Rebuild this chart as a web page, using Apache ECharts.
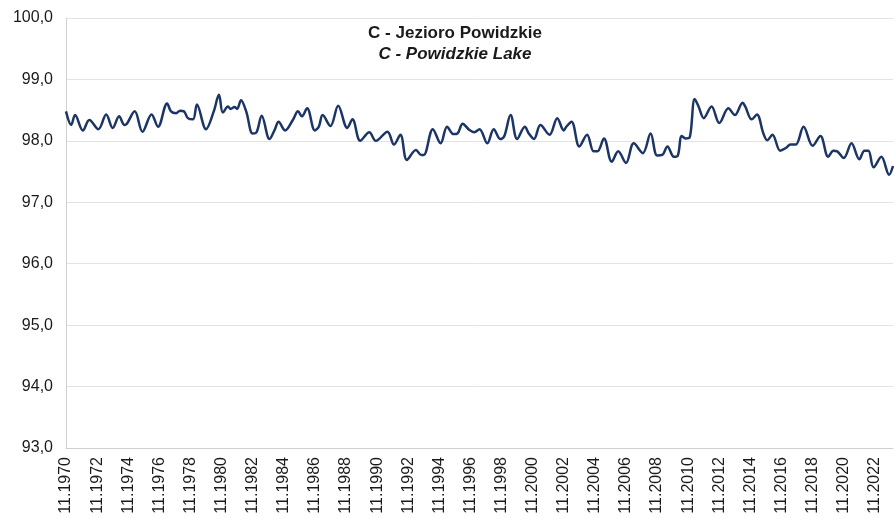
<!DOCTYPE html>
<html>
<head>
<meta charset="utf-8">
<script src="https://cdn.jsdelivr.net/npm/echarts@6/dist/echarts.min.js"></script>
<style>
html,body{margin:0;padding:0;background:#fff;}
#chart{width:894px;height:518px;}
</style>
</head>
<body>
<div id="chart"></div>
<script>
// month index counted from 11.1970
var months = [0,4,7,13,18,25,31,36,41,45,47,53,59,66,71,78,81,85,88,91,94,98,101,108,114,118,121,125,127,130,132,135,139,144,147,151,157,
161,164,169,175,179,182,186,192,195,198,204,210,217,221,227,234,239,248,253,258,263,270,274,276,283,289,294,299,302,306,
311,315,319,325,330,335,338,343,348,354,357,361,366,373,379,384,386,390,396,402,407,410,415,421,426,432,438,445,451,456,460,464,469,
472,475,478,481,485,488,492,498,504,511,516,522,524,529,533,538,541,545,551,555,559,563,569,576,582,588,592,595,600,606,612,616,619,623,629,635,638];
var levels = [98.48,98.26,98.42,98.17,98.34,98.19,98.43,98.21,98.40,98.26,98.28,98.48,98.15,98.43,98.23,98.61,98.48,98.45,98.49,98.48,98.37,98.35,98.59,98.19,98.48,98.75,98.46,98.56,98.52,98.55,98.52,98.66,98.48,98.12,98.14,98.41,98.03,
98.18,98.31,98.17,98.34,98.48,98.40,98.53,98.17,98.23,98.42,98.24,98.57,98.21,98.35,98.00,98.14,98.00,98.15,97.94,98.10,97.69,97.85,97.77,97.77,98.19,97.96,98.23,98.11,98.12,98.28,
98.18,98.14,98.19,97.96,98.19,98.03,98.07,98.42,98.03,98.23,98.12,98.03,98.26,98.10,98.37,98.17,98.23,98.31,97.91,98.10,97.83,97.83,98.04,97.66,97.83,97.64,97.96,97.80,98.12,97.76,97.77,97.91,97.74,
97.76,98.08,98.04,98.05,98.68,98.56,98.37,98.56,98.29,98.53,98.42,98.62,98.56,98.35,98.43,98.12,98.01,98.10,97.84,97.88,97.94,97.94,98.23,97.92,98.08,97.74,97.84,97.83,97.72,97.96,97.70,97.84,97.84,97.57,97.74,97.45,97.59];
var startYear = 1970;
var startMonth = 11;
var titleLine1 = 'C - Jezioro Powidzkie';
var titleLine2 = 'C - Powidzkie Lake';

var seriesData = months.map(function(m, i){ return [m, levels[i]]; });

var chart = echarts.init(document.getElementById('chart'), null, {renderer:'canvas'});
chart.setOption({
  animation:false,
  backgroundColor:'#fff',
  title:[
    {text:titleLine1, left:450, top:20, textAlign:'center',
     textStyle:{fontFamily:'Liberation Sans, Arial', fontSize:17, fontWeight:'bold', color:'#1a1a1a'}},
    {text:titleLine2, left:450, top:41, textAlign:'center',
     textStyle:{fontFamily:'Liberation Sans, Arial', fontSize:17, fontWeight:'bold', fontStyle:'italic', color:'#1a1a1a'}}
  ],
  grid:{left:66, right:1, top:18, bottom:70, containLabel:false},
  xAxis:{
    type:'value', min:0, max:638, interval:24,
    axisLine:{show:true, lineStyle:{color:'#d0d0d0', width:1}},
    axisTick:{show:false},
    splitLine:{show:false},
    axisLabel:{
      rotate:90, margin:9, color:'#1a1a1a', fontSize:16, fontFamily:'Liberation Sans, Arial',
      showMaxLabel:false,
      formatter:function(v){
        var total = (startMonth-1) + v;
        var y = startYear + Math.floor(total/12);
        var m = (total % 12) + 1;
        return (m<10?'0'+m:m) + '.' + y;
      }
    }
  },
  yAxis:{
    type:'value', min:93, max:100, interval:1,
    axisLine:{show:true, lineStyle:{color:'#d0d0d0', width:1}},
    axisTick:{show:false},
    splitLine:{show:true, lineStyle:{color:'#e3e3e3', width:1}},
    axisLabel:{
      color:'#1a1a1a', fontSize:16, fontFamily:'Liberation Sans, Arial', margin:13,
      formatter:function(v){ return v.toFixed(1).replace('.', ','); }
    }
  },
  series:[{
    type:'line', data:seriesData, smooth:0.35, showSymbol:false,
    lineStyle:{color:'#1c3567', width:2.5},
    itemStyle:{color:'#1c3567'}
  }]
});
</script>
</body>
</html>
